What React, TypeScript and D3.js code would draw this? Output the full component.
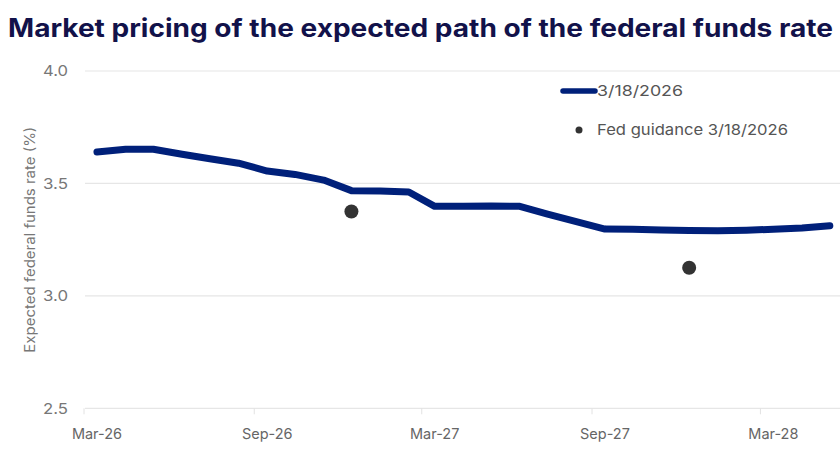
import React from "react";
import * as d3 from "d3";

const W = 840;
const H = 472;

const title = "Market pricing of the expected path of the federal funds rate";
const yAxisTitle = "Expected federal funds rate (%)";
const seriesName = "3/18/2026";
const guidanceName = "Fed guidance 3/18/2026";

// monthly observations (mid-month), Mar-2026 .. May-2028
const months = [
  "2026-03", "2026-04", "2026-05", "2026-06", "2026-07", "2026-08", "2026-09",
  "2026-10", "2026-11", "2026-12", "2027-01", "2027-02", "2027-03", "2027-04",
  "2027-05", "2027-06", "2027-07", "2027-08", "2027-09", "2027-10", "2027-11",
  "2027-12", "2028-01", "2028-02", "2028-03", "2028-04", "2028-05",
];
const rates = [
  3.64, 3.652, 3.652, 3.63, 3.61, 3.59, 3.555,
  3.54, 3.515, 3.468, 3.466, 3.462, 3.398, 3.398,
  3.4, 3.398, 3.364, 3.33, 3.297, 3.296, 3.293,
  3.291, 3.29, 3.292, 3.296, 3.302, 3.312,
];

const guidanceMonths = ["2026-12", "2027-12"];
const guidanceRates = [3.375, 3.125];

const yTicks = [2.5, 3.0, 3.5, 4.0];
const xTickMonths = ["2026-03", "2026-09", "2027-03", "2027-09", "2028-03"];
const xTickLabels = ["Mar-26", "Sep-26", "Mar-27", "Sep-27", "Mar-28"];

const parseMonth = d3.timeParse("%Y-%m");
const mid = (m: string) => d3.timeDay.offset(parseMonth(m) as Date, 14);

const FONT = "Inter, 'Open Sans', sans-serif";

export default function App() {
  const plotLeft = 85;
  const plotRight = 840;
  const x = d3
    .scaleTime()
    .domain([new Date(2026, 2, 1), new Date(2028, 4, 26)])
    .range([84, plotRight]);
  const y = d3.scaleLinear().domain([2.5, 4.0]).range([408.3, 71]);

  const data = months.map((m, i) => ({ d: mid(m), v: rates[i] }));
  const line = d3
    .line<{ d: Date; v: number }>()
    .x((p) => x(p.d))
    .y((p) => y(p.v));

  const navy = "#00207a";

  return (
    <div style={{ position: "absolute", left: 0, top: 0 }}>
      <svg width={W} height={H} style={{ display: "block", background: "#fff" }}>
        <text
          x={8}
          y={37}
          fontFamily={FONT}
          fontWeight={700}
          fontSize={25}
          fill="#12124a"
          textLength={825}
          lengthAdjust="spacingAndGlyphs"
        >
          {title}
        </text>

        {yTicks.map((t) => (
          <g key={t}>
            <line
              x1={plotLeft}
              x2={plotRight}
              y1={y(t)}
              y2={y(t)}
              stroke="#e6e6e6"
              strokeWidth={1.2}
            />
            <text
              x={68}
              y={y(t)}
              dy="0.35em"
              textAnchor="end"
              fontFamily={FONT}
              fontSize={15}
              fill="#777"
              textLength={25}
              lengthAdjust="spacingAndGlyphs"
            >
              {t.toFixed(1)}
            </text>
          </g>
        ))}

        {xTickMonths.map((m, i) => {
          const start = parseMonth(m) as Date;
          return (
            <g key={m}>
              <line
                x1={x(start)}
                x2={x(start)}
                y1={y(2.5)}
                y2={y(2.5) + 6}
                stroke="#e2e2e2"
                strokeWidth={1}
              />
              <text
                x={x(mid(m))}
                y={439}
                textAnchor="middle"
                fontFamily={FONT}
                fontSize={14.5}
                fill="#666"
              >
                {xTickLabels[i]}
              </text>
            </g>
          );
        })}

        <text
          transform={`translate(35,${(y(4) + y(2.5)) / 2}) rotate(-90)`}
          textAnchor="middle"
          fontFamily={FONT}
          fontSize={14}
          fill="#777"
          textLength={226}
          lengthAdjust="spacingAndGlyphs"
        >
          {yAxisTitle}
        </text>

        <path
          d={line(data) || ""}
          fill="none"
          stroke={navy}
          strokeWidth={7}
          strokeLinejoin="round"
          strokeLinecap="round"
        />

        {guidanceMonths.map((m, i) => (
          <circle
            key={m}
            cx={x(mid(m))}
            cy={y(guidanceRates[i])}
            r={7}
            fill="#333"
          />
        ))}

        <line
          x1={563}
          x2={595}
          y1={91}
          y2={91}
          stroke={navy}
          strokeWidth={5.5}
          strokeLinecap="round"
        />
        <text
          x={597}
          y={96}
          fontFamily={FONT}
          fontSize={15}
          fill="#555"
          textLength={86}
          lengthAdjust="spacingAndGlyphs"
        >
          {seriesName}
        </text>
        <circle cx={579} cy={130} r={3.5} fill="#333" />
        <text
          x={597}
          y={135}
          fontFamily={FONT}
          fontSize={15}
          fill="#555"
          textLength={191}
          lengthAdjust="spacingAndGlyphs"
        >
          {guidanceName}
        </text>
      </svg>
    </div>
  );
}
